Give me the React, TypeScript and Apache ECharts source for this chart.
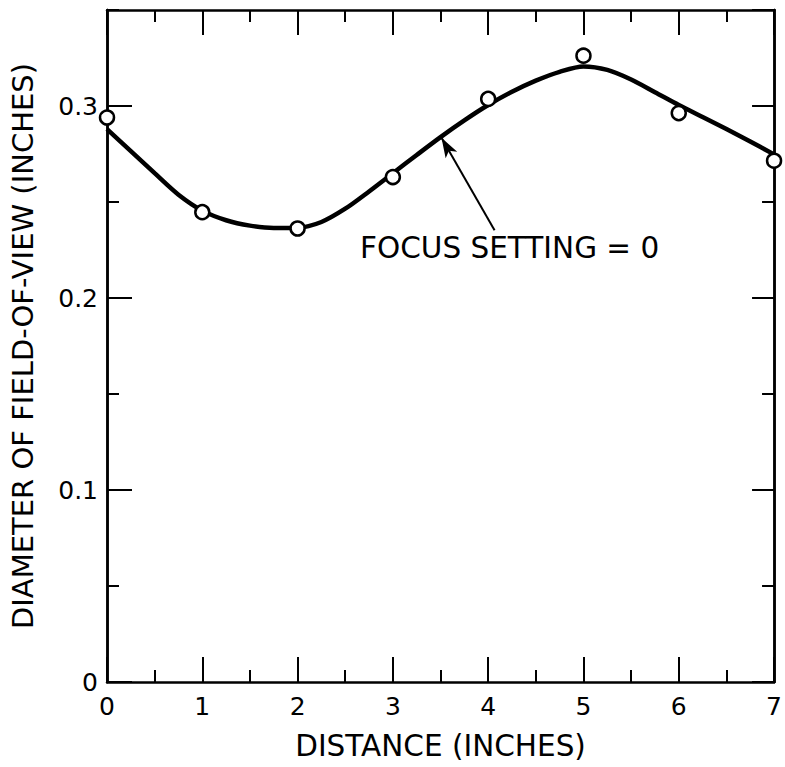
import React, { useEffect, useRef } from "react";
import * as echarts from "echarts";

// Measured points (open circles)
const distance = [0, 1, 2, 3, 4, 5, 6, 7];
const measured = [0.294, 0.2447, 0.2362, 0.263, 0.3037, 0.3262, 0.2963, 0.2715];

// Fitted curve
const curveX = [
  0, 0.25, 0.5, 0.75, 1, 1.25, 1.5, 1.75, 2, 2.25, 2.5, 2.75, 3, 3.25, 3.5,
  3.75, 4, 4.25, 4.5, 4.75, 5, 5.25, 5.5, 5.75, 6, 6.25, 6.5, 6.75, 7,
];
const curveY = [
  0.288, 0.2765, 0.265, 0.2538, 0.2455, 0.2405, 0.2377, 0.2365, 0.2366,
  0.2396, 0.2465, 0.2555, 0.265, 0.2745, 0.2838, 0.2925, 0.3005, 0.3074,
  0.3132, 0.3178, 0.3206, 0.3188, 0.3138, 0.3072, 0.3005, 0.2943, 0.288,
  0.2815, 0.2748,
];

const xTitle = "DISTANCE (INCHES)";
const yTitle = "DIAMETER OF FIELD-OF-VIEW (INCHES)";
const annotation = "FOCUS SETTING = 0";
const arrowFrom = [4.067, 0.2353];
const arrowTo = [3.51, 0.2835];

const FONT = "DejaVu Sans";

export default function App() {
  const ref = useRef<HTMLDivElement>(null);
  useEffect(() => {
    if (!ref.current) return;
    const chart = echarts.init(ref.current, null, { renderer: "svg" });
    const lineStyle = { color: "#000", width: 2.5 };
    const tickStyle = { color: "#000", width: 2 };
    const xBase = (pos: string, labels: boolean) => ({
      type: "value",
      position: pos,
      min: 0,
      max: 7,
      interval: 1,
      axisLine: { show: true, onZero: false, lineStyle },
      axisTick: { show: true, inside: true, length: 25, lineStyle: tickStyle },
      minorTick: { show: true, splitNumber: 2, length: 12, lineStyle: tickStyle },
      splitLine: { show: false },
      minorSplitLine: { show: false },
      axisLabel: {
        show: labels,
        fontSize: 25,
        color: "#000",
        fontFamily: FONT,
        margin: 12,
      },
    });
    const yBase = (pos: string, interval: number, len: number, labels: boolean) => ({
      type: "value",
      position: pos,
      min: 0,
      max: 0.35,
      interval,
      axisLine: { show: true, onZero: false, lineStyle },
      axisTick: { show: true, inside: true, length: len, lineStyle: tickStyle },
      splitLine: { show: false },
      axisLabel: {
        show: labels,
        fontSize: 25,
        color: "#000",
        fontFamily: FONT,
        margin: 9,
        showMaxLabel: false,
        formatter: (v: number) => (v === 0 ? "0" : v.toFixed(1)),
      },
    });
    const x0: any = xBase("bottom", true);
    x0.name = xTitle;
    x0.nameLocation = "middle";
    x0.nameGap = 49;
    x0.nameTextStyle = { fontSize: 29.5, color: "#000", fontFamily: FONT };
    const y0: any = yBase("left", 0.1, 25, true);
    y0.name = yTitle;
    y0.nameLocation = "middle";
    y0.nameGap = 70;
    y0.nameTextStyle = { fontSize: 29, color: "#000", fontFamily: FONT };

    chart.setOption({
      animation: false,
      backgroundColor: "#fff",
      grid: { left: 106, right: 8, top: 10, bottom: 85, containLabel: false },
      xAxis: [x0, xBase("top", false)],
      yAxis: [
        y0,
        yBase("left", 0.05, 12, false),
        yBase("right", 0.1, 22, false),
        yBase("right", 0.05, 12, false),
      ],
      graphic: [
        {
          type: "text",
          left: 360,
          top: 233,
          style: {
            text: annotation,
            fontSize: 29.5,
            fill: "#000",
            fontFamily: FONT,
          },
        },
      ],
      series: [
        {
          type: "line",
          xAxisIndex: 0,
          yAxisIndex: 0,
          data: curveX.map((x, i) => [x, curveY[i]]),
          smooth: 0.3,
          showSymbol: false,
          symbol: "none",
          lineStyle: { color: "#000", width: 4.5 },
          z: 2,
          silent: true,
          markLine: {
            silent: true,
            symbol: ["none", "arrow"],
            symbolSize: [10, 20],
            lineStyle: { color: "#000", width: 2, type: "solid" },
            label: { show: false },
            data: [[{ coord: arrowFrom }, { coord: arrowTo }]],
          },
        },
        {
          type: "scatter",
          xAxisIndex: 0,
          yAxisIndex: 0,
          data: distance.map((x, i) => [x, measured[i]]),
          symbol: "circle",
          symbolSize: 14,
          clip: false,
          itemStyle: { color: "#fff", borderColor: "#000", borderWidth: 2.5, opacity: 1 },
          z: 3,
          silent: true,
        },
      ],
    });
    return () => chart.dispose();
  }, []);
  return (
    <div
      ref={ref}
      style={{ position: "absolute", left: 0, top: 0, width: 785, height: 767 }}
    />
  );
}
